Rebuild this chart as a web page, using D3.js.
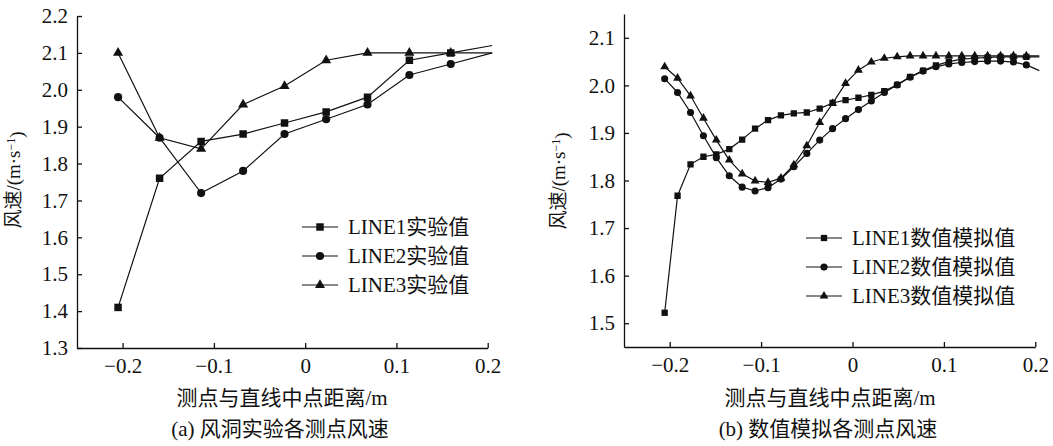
<!DOCTYPE html>
<html><head><meta charset="utf-8">
<script src="https://cdn.jsdelivr.net/npm/d3@7"></script>
<style>
body{margin:0;background:#fff}
svg{display:block}
text{font-family:"Liberation Serif","Times New Roman","Noto Sans CJK SC",serif;fill:#111}
</style>
</head><body>
<svg id="c" width="1053" height="446"></svg>
<script>
// ---------- data ----------
const xTickValues = [-0.2, -0.1, 0, 0.1, 0.2];
const yTicksA = [1.3, 1.4, 1.5, 1.6, 1.7, 1.8, 1.9, 2.0, 2.1, 2.2];
const yTicksB = [1.5, 1.6, 1.7, 1.8, 1.9, 2.0, 2.1];

// (a) wind tunnel experiment
const xA = [-0.205, -0.1595, -0.114, -0.068, -0.0226, 0.023, 0.0683, 0.1142, 0.1595, 0.205];
const line1A = [1.41, 1.76, 1.86, 1.88, 1.91, 1.94, 1.98, 2.08, 2.10, 2.12];
const line2A = [1.98, 1.87, 1.72, 1.78, 1.88, 1.92, 1.96, 2.04, 2.07, 2.10];
const line3A = [2.10, 1.87, 1.84, 1.96, 2.01, 2.08, 2.10, 2.10, 2.10, 2.10];
const legendA = ["LINE1实验值", "LINE2实验值", "LINE3实验值"];

// (b) numerical simulation
const xB = [-0.2055, -0.1914, -0.1772, -0.1631, -0.1490, -0.1348, -0.1207, -0.1066, -0.0924, -0.0783,
            -0.0642, -0.0500, -0.0359, -0.0218, -0.0076, 0.0065, 0.0206, 0.0348, 0.0489, 0.0630,
            0.0772, 0.0913, 0.1054, 0.1196, 0.1337, 0.1478, 0.1620, 0.1761, 0.1902, 0.2044];
const line1B = [1.522, 1.768, 1.834, 1.850, 1.855, 1.866, 1.886, 1.909, 1.927, 1.937,
                1.941, 1.943, 1.951, 1.963, 1.969, 1.974, 1.980, 1.988, 2.001, 2.018,
                2.031, 2.042, 2.050, 2.055, 2.057, 2.059, 2.060, 2.060, 2.060, 2.060];
const line2B = [2.014, 1.985, 1.943, 1.894, 1.848, 1.810, 1.786, 1.778, 1.785, 1.803,
                1.829, 1.857, 1.885, 1.909, 1.930, 1.949, 1.967, 1.985, 2.001, 2.017,
                2.030, 2.039, 2.045, 2.048, 2.050, 2.051, 2.051, 2.049, 2.043, 2.031];
const line3B = [2.039, 2.015, 1.978, 1.931, 1.885, 1.843, 1.814, 1.799, 1.796, 1.805,
                1.833, 1.873, 1.922, 1.962, 2.004, 2.032, 2.049, 2.057, 2.060, 2.062,
                2.062, 2.062, 2.062, 2.062, 2.062, 2.062, 2.062, 2.062, 2.062, 2.062];
const legendB = ["LINE1数值模拟值", "LINE2数值模拟值", "LINE3数值模拟值"];

const xTitle = "测点与直线中点距离/m";
const captionA = "(a) 风洞实验各测点风速";
const captionB = "(b) 数值模拟各测点风速";

// ---------- drawing ----------
const svg = d3.select("#c");
const symbolTypes = [d3.symbolSquare, d3.symbolCircle, d3.symbolTriangle];
const fmtX = d => d === 0 ? "0" : d3.format(".1f")(d).replace("-", "\u2212");
const fmtY = d3.format(".1f");

function panel(cfg) {
  const g = svg.append("g");
  const x = d3.scaleLinear().domain([-0.25, 0.2]).range(cfg.xRange);
  const y = d3.scaleLinear().domain(cfg.yDomain).range(cfg.yRange);

  const clipId = "clip" + cfg.id;
  svg.append("clipPath").attr("id", clipId).append("rect")
    .attr("x", cfg.xRange[0]).attr("y", cfg.yRange[1] - 10)
    .attr("width", cfg.xRange[1] - cfg.xRange[0] + 5)
    .attr("height", cfg.yRange[0] - cfg.yRange[1] + 10);

  // axes
  const xa = g.append("g").attr("transform", `translate(0,${cfg.yRange[0]})`)
    .call(d3.axisBottom(x).tickValues(xTickValues).tickFormat(fmtX)
      .tickSizeInner(-5).tickSizeOuter(0).tickPadding(10));
  const ya = g.append("g").attr("transform", `translate(${cfg.xRange[0]},0)`)
    .call(d3.axisLeft(y).tickValues(cfg.yTicks).tickFormat(fmtY)
      .tickSizeInner(-5).tickSizeOuter(0).tickPadding(9));
  [xa, ya].forEach(a => {
    a.selectAll("path,line").attr("stroke", "#111").attr("stroke-width", 1.3);
    a.selectAll("text").style("font-size", "21px").style("fill", "#111")
      .style("font-family", "'Liberation Serif','Times New Roman',serif");
  });

  // series
  const plot = g.append("g").attr("clip-path", `url(#${clipId})`);
  const line = d3.line().x(d => x(d[0])).y(d => y(d[1]));
  cfg.series.forEach((vals, i) => {
    const pts = cfg.xs.map((xv, j) => [xv, vals[j]]);
    plot.append("path").datum(pts).attr("d", line)
      .attr("fill", "none").attr("stroke", "#111").attr("stroke-width", 1.2);
    plot.selectAll(null).data(pts.filter(p => p[0] <= 0.2)).enter().append("path")
      .attr("transform", p => `translate(${x(p[0])},${y(p[1])})`)
      .attr("d", d3.symbol().type(symbolTypes[i]).size(cfg.sizes[i]))
      .attr("fill", "#111");
  });

  // legend
  cfg.legend.forEach((name, i) => {
    const ly = cfg.legendY[i];
    g.append("line").attr("x1", cfg.legendX).attr("x2", cfg.legendX + 36)
      .attr("y1", ly).attr("y2", ly).attr("stroke", "#111").attr("stroke-width", 1.2);
    g.append("path").attr("transform", `translate(${cfg.legendX + 18},${ly})`)
      .attr("d", d3.symbol().type(symbolTypes[i]).size(cfg.sizes[i])).attr("fill", "#111");
    g.append("text").attr("x", cfg.legendX + 46).attr("y", ly).attr("dy", "0.35em")
      .style("font-size", "21px").text(name);
  });

  // y label
  const yl = g.append("text")
    .attr("transform", `translate(${cfg.yLabelX},${cfg.yLabelY}) rotate(-90)`)
    .attr("text-anchor", "middle").style("font-size", "19px");
  yl.append("tspan").text("风速/(m·s");
  yl.append("tspan").attr("dy", "-0.45em").style("font-size", "12px").text("\u22121");
  yl.append("tspan").attr("dy", "0.45em").text(")");

  // x title and caption
  g.append("text").attr("x", cfg.titleX).attr("y", 405).attr("text-anchor", "middle")
    .style("font-size", "21px").text(xTitle);
  g.append("text").attr("x", cfg.titleX - 2).attr("y", 436).attr("text-anchor", "middle")
    .style("font-size", "21px").text(cfg.caption);
}

panel({
  id: "A", xRange: [77, 487.7], yDomain: [1.3, 2.2], yRange: [348, 16], yTicks: yTicksA,
  xs: xA, series: [line1A, line2A, line3A], sizes: [56, 52, 44],
  legend: legendA, legendX: 302, legendY: [227, 256, 285],
  yLabelX: 20, yLabelY: 180, titleX: 282, caption: captionA
});
panel({
  id: "B", xRange: [624, 1035.3], yDomain: [1.45, 2.15], yRange: [347, 14], yTicks: yTicksB,
  xs: xB, series: [line1B, line2B, line3B], sizes: [40, 40, 34],
  legend: legendB, legendX: 806, legendY: [238, 267, 296],
  yLabelX: 565, yLabelY: 181, titleX: 830, caption: captionB
});
</script>
</body></html>
